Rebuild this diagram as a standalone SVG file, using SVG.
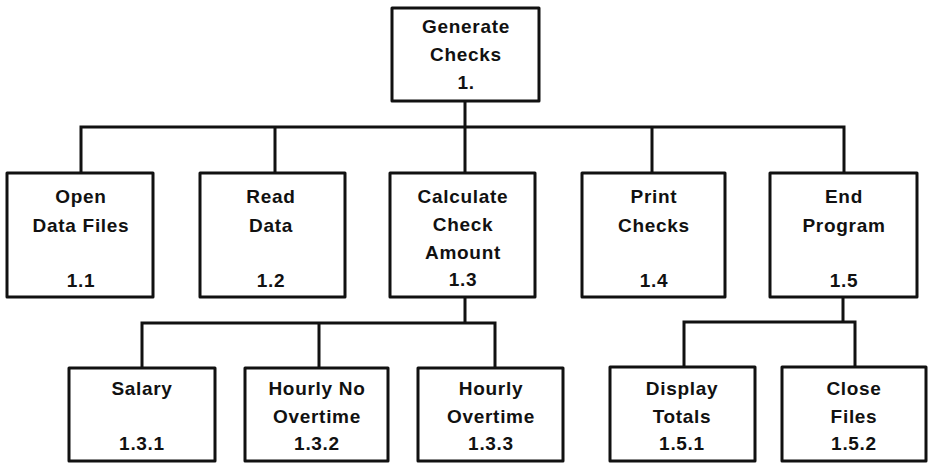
<svg xmlns="http://www.w3.org/2000/svg" width="929" height="463" viewBox="0 0 929 463">
<style>
.box{fill:#fff;stroke:#111;stroke-width:3;stroke-linejoin:round}
.ln{fill:none;stroke:#111;stroke-width:3;stroke-linejoin:miter}
text{font-family:"Liberation Sans",Arial,sans-serif;font-weight:bold;font-size:19px;fill:#111;text-anchor:middle;letter-spacing:0.7px}
</style>
<rect width="929" height="463" fill="#fff"/>
<g id="connectors">
<path class="ln" d="M465,101 V173 M81,173 V127 H844 V173 M275,127 V173 M652,127 V173"/>
<path class="ln" d="M465,297 V323 M142,368 V323 H495 V368 M319,323 V368"/>
<path class="ln" d="M843,297 V322 M684,367 V322 H855 V367"/>
</g>
<g id="n1"><rect class="box" x="392" y="8" width="147" height="93"/><text x="466" y="33">Generate</text><text x="466" y="61">Checks</text><text x="466" y="89">1.</text></g>
<g id="n1_1"><rect class="box" x="7" y="173" width="146" height="124"/><text x="81" y="203">Open</text><text x="81" y="232">Data Files</text><text x="81" y="287">1.1</text></g>
<g id="n1_2"><rect class="box" x="200" y="173" width="145" height="124"/><text x="271" y="203">Read</text><text x="271" y="232">Data</text><text x="271" y="287">1.2</text></g>
<g id="n1_3"><rect class="box" x="390" y="173" width="145" height="124"/><text x="463" y="203">Calculate</text><text x="463" y="231">Check</text><text x="463" y="259">Amount</text><text x="463" y="286">1.3</text></g>
<g id="n1_4"><rect class="box" x="582" y="173" width="143" height="124"/><text x="654" y="203">Print</text><text x="654" y="232">Checks</text><text x="654" y="287">1.4</text></g>
<g id="n1_5"><rect class="box" x="770" y="173" width="147" height="124"/><text x="844" y="203">End</text><text x="844" y="232">Program</text><text x="844" y="287">1.5</text></g>
<g id="n1_3_1"><rect class="box" x="69" y="368" width="146" height="93"/><text x="142" y="395">Salary</text><text x="142" y="450">1.3.1</text></g>
<g id="n1_3_2"><rect class="box" x="245" y="368" width="143" height="93"/><text x="317" y="395">Hourly No</text><text x="317" y="423">Overtime</text><text x="317" y="450">1.3.2</text></g>
<g id="n1_3_3"><rect class="box" x="418" y="368" width="145" height="93"/><text x="491" y="395">Hourly</text><text x="491" y="423">Overtime</text><text x="491" y="450">1.3.3</text></g>
<g id="n1_5_1"><rect class="box" x="610" y="367" width="145" height="94"/><text x="682" y="395">Display</text><text x="682" y="423">Totals</text><text x="682" y="450">1.5.1</text></g>
<g id="n1_5_2"><rect class="box" x="782" y="367" width="144" height="94"/><text x="854" y="395">Close</text><text x="854" y="423">Files</text><text x="854" y="450">1.5.2</text></g>
</svg>
